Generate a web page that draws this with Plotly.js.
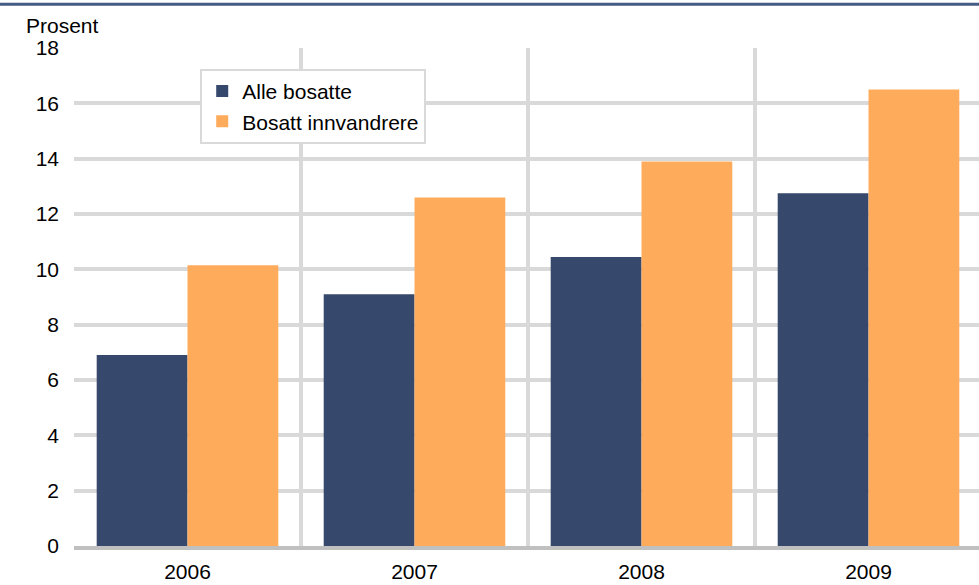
<!DOCTYPE html>
<html><head><meta charset="utf-8">
<script src="https://cdn.plot.ly/plotly-3.0.1.min.js"></script>
<style>html,body{margin:0;padding:0;overflow:hidden;background:#fff;width:979px;height:585px}#chart{width:990px;height:585px}</style>
</head><body><div id="chart"></div>
<script>
const years = ["2006", "2007", "2008", "2009"];
const alleBosatte = [6.9, 9.1, 10.45, 12.75];
const bosattInnvandrere = [10.15, 12.6, 13.9, 16.5];
const seriesNames = ["Alle bosatte", "Bosatt innvandrere"];
const yTicks = [0, 2, 4, 6, 8, 10, 12, 14, 16, 18];

const font = {family: "Liberation Sans, Arial, sans-serif", size: 21, color: "#000"};
const data = [
  {type: "bar", x: years, y: alleBosatte, name: seriesNames[0], marker: {color: "#36486b"}},
  {type: "bar", x: years, y: bosattInnvandrere, name: seriesNames[1], marker: {color: "#ffab5c"}}
];
const layout = {
  width: 990, height: 585,
  margin: {l: 74, r: 8, t: 48, b: 39},
  paper_bgcolor: "#fff", plot_bgcolor: "#fff",
  font: font,
  barmode: "group", bargap: 0.2, bargroupgap: 0,
  xaxis: {type: "category", tickson: "boundaries", showgrid: true, gridcolor: "#d9d9d9", gridwidth: 4,
          ticks: "", showline: true, linecolor: "#c0c0c0", linewidth: 4, tickfont: font, range: [-0.5, 3.5],
          automargin: false, ticklabelstandoff: 4},
  yaxis: {range: [0, 18], tickvals: yTicks, showgrid: true, gridcolor: "#d9d9d9", gridwidth: 4,
          zeroline: false, showline: false, ticks: "", ticklabelstandoff: 14, tickfont: font, automargin: false},
  legend: {x: 0.139, y: 0.958, xanchor: "left", yanchor: "top", bgcolor: "#fff",
           bordercolor: "#d9d9d9", borderwidth: 2, font: font, traceorder: "normal",
           itemwidth: 30, tracegroupgap: 0},
  showlegend: true,
  annotations: [{text: "Prosent", xref: "paper", yref: "paper", x: -0.055, y: 1.046,
                 xanchor: "left", yanchor: "middle", showarrow: false, font: font}],
  shapes: [{type: "line", xref: "paper", yref: "paper", x0: -0.1, x1: 1.1, y0: 1.088, y1: 1.088,
            line: {color: "#445b85", width: 3}}]
};
Plotly.newPlot("chart", data, layout, {staticPlot: true, displayModeBar: false});
</script></body></html>
